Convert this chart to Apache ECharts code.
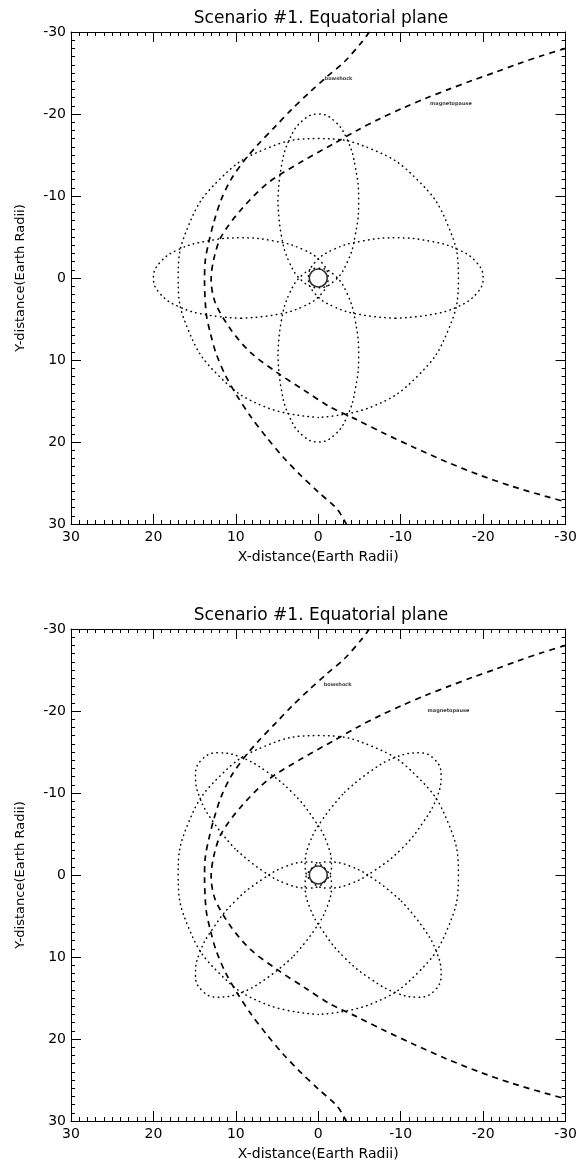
<!DOCTYPE html>
<html>
<head>
<meta charset="utf-8">
<script src="https://cdn.jsdelivr.net/npm/echarts/dist/echarts.min.js"></script>
<style>
  html, body { margin: 0; padding: 0; background: #fff; }
  #chart { width: 580px; height: 1163px; }
</style>
</head>
<body>
<div id="chart"></div>
<script>
// tick labels
const tickValues = [-30, -20, -10, 0, 10, 20, 30];
const tickLabels = ["-30", "-20", "-10", "0", "10", "20", "30"];

// dashed boundaries (X, Y in Earth radii)
const bowShock = [[-6.2, -30], [-5.3, -28.8], [-3.2, -26.4], [-1.0, -24.5], [1.1, -22.6], [3.2, -20.6], [5.2, -18.5],
  [7.2, -16.4], [9.0, -14.3], [10.6, -12.0], [11.8, -9.5], [12.7, -6.7], [13.3, -4.3], [13.7, -2.2], [13.8, 0.2],
  [13.6, 4.3], [13.1, 6.7], [12.4, 9.2], [11.3, 11.8], [9.9, 14.3], [8.2, 16.9], [6.3, 19.4], [4.3, 21.8],
  [2.2, 24.0], [0.0, 26.1], [-2.3, 28.2], [-3.4, 30]];
const magnetopause = [[-30, -28.0], [-27.1, -27.1], [-24.2, -26.1], [-21.5, -25.1], [-18.7, -24.1], [-15.8, -23.0],
  [-13.0, -21.9], [-10.2, -20.7], [-7.4, -19.4], [-4.7, -18.0], [-1.9, -16.4], [2.0, -14.2], [6.1, -11.6], [9.4, -8.3],
  [11.8, -5.0], [12.7, -2.2], [13.0, 0.2], [12.5, 3.0], [10.6, 6.3], [8.2, 9.1], [4.9, 11.6], [1.7, 13.7],
  [-1.4, 15.7], [-4.7, 17.3], [-7.9, 18.9], [-11.5, 20.6], [-15.5, 22.4], [-19.5, 24.0], [-23.5, 25.4],
  [-27.5, 26.6], [-30, 27.3]];

// circular orbit, both panels
const ringOrbit = [[0, 17], [6.5, 15.7], [12.0, 12.0], [15.7, 6.5], [17, 0], [15.7, -6.5], [12.0, -12.0], [6.5, -15.7],
  [0, -17], [-6.5, -15.7], [-12.0, -12.0], [-15.7, -6.5], [-17, 0], [-15.7, 6.5], [-12.0, 12.0], [-6.5, 15.7], [0, 17]];

// panel 1: orbits along the axes
const orbitPlusX = [[9.4, 4.9], [13.5, 4.5], [16.9, 3.5], [19.2, 1.9], [20, 0], [19.2, -1.9], [16.9, -3.5], [13.5, -4.5],
  [9.4, -4.9], [5.3, -4.5], [1.9, -3.5], [-0.4, -1.9], [-1.2, 0], [-0.4, 1.9], [1.9, 3.5], [5.3, 4.5], [9.4, 4.9]];
const orbitMinusX = [[-9.4, 4.9], [-13.5, 4.5], [-16.9, 3.5], [-19.2, 1.9], [-20, 0], [-19.2, -1.9], [-16.9, -3.5],
  [-13.5, -4.5], [-9.4, -4.9], [-5.3, -4.5], [-1.9, -3.5], [0.4, -1.9], [1.2, 0], [0.4, 1.9], [-1.9, 3.5], [-5.3, 4.5], [-9.4, 4.9]];
const orbitPlusY = [[4.9, 9.4], [4.5, 13.5], [3.5, 16.9], [1.9, 19.2], [0, 20], [-1.9, 19.2], [-3.5, 16.9], [-4.5, 13.5],
  [-4.9, 9.4], [-4.5, 5.3], [-3.5, 1.9], [-1.9, -0.4], [0, -1.2], [1.9, -0.4], [3.5, 1.9], [4.5, 5.3], [4.9, 9.4]];
const orbitMinusY = [[4.9, -9.4], [4.5, -13.5], [3.5, -16.9], [1.9, -19.2], [0, -20], [-1.9, -19.2], [-3.5, -16.9],
  [-4.5, -13.5], [-4.9, -9.4], [-4.5, -5.3], [-3.5, -1.9], [-1.9, 0.4], [0, 1.2], [1.9, 0.4], [3.5, -1.9], [4.5, -5.3], [4.9, -9.4]];

// panel 2: orbits along the diagonals
const orbitDiagA = [[3.2, 10.1], [6.4, 12.7], [9.5, 14.4], [12.2, 14.9], [14.1, 14.1], [14.9, 12.2], [14.4, 9.5], [12.7, 6.4],
  [10.1, 3.2], [6.9, 0.6], [3.8, -1.1], [1.1, -1.6], [-0.8, -0.8], [-1.6, 1.1], [-1.1, 3.8], [0.6, 6.9], [3.2, 10.1]];
const orbitDiagB = [[-10.1, 3.2], [-12.7, 6.4], [-14.4, 9.5], [-14.9, 12.2], [-14.1, 14.1], [-12.2, 14.9], [-9.5, 14.4],
  [-6.4, 12.7], [-3.2, 10.1], [-0.6, 6.9], [1.1, 3.8], [1.6, 1.1], [0.8, -0.8], [-1.1, -1.6], [-3.8, -1.1], [-6.9, 0.6], [-10.1, 3.2]];
const orbitDiagC = [[-3.2, -10.1], [-6.4, -12.7], [-9.5, -14.4], [-12.2, -14.9], [-14.1, -14.1], [-14.9, -12.2], [-14.4, -9.5],
  [-12.7, -6.4], [-10.1, -3.2], [-6.9, -0.6], [-3.8, 1.1], [-1.1, 1.6], [0.8, 0.8], [1.6, -1.1], [1.1, -3.8], [-0.6, -6.9], [-3.2, -10.1]];
const orbitDiagD = [[10.1, -3.2], [12.7, -6.4], [14.4, -9.5], [14.9, -12.2], [14.1, -14.1], [12.2, -14.9], [9.5, -14.4],
  [6.4, -12.7], [3.2, -10.1], [0.6, -6.9], [-1.1, -3.8], [-1.6, -1.1], [-0.8, 0.8], [1.1, 1.6], [3.8, 1.1], [6.9, -0.6], [10.1, -3.2]];

const earth = [[0, 0]];
const bowShockLabel = [[[-0.7, -24.3]], [[-0.6, -23.2]]];
const magnetopauseLabel = [[[-13.5, -21.3]], [[-13.2, -20.0]]];

const panelOrbits = [
  [orbitPlusX, orbitMinusX, orbitPlusY, orbitMinusY, ringOrbit],
  [orbitDiagA, orbitDiagB, orbitDiagC, orbitDiagD, ringOrbit]
];
const panelTitle = "Scenario #1. Equatorial plane";
const font = "DejaVu Sans";
const gridTops = [32, 629];

function fmt(v) {
  const i = tickValues.indexOf(v);
  return i < 0 ? "" : tickLabels[i];
}

function xAxisFor(g, bottom) {
  return {
    gridIndex: g, type: "value", min: -30, max: 30, interval: 10, inverse: true,
    position: bottom ? "bottom" : "top",
    name: bottom ? "X-distance(Earth Radii)" : "",
    nameLocation: "middle", nameGap: 26,
    nameTextStyle: { color: "#000", fontFamily: font, fontSize: 14 },
    axisLine: { onZero: false, lineStyle: { color: "#000", width: 1 } },
    axisTick: { inside: true, length: 10, lineStyle: { color: "#000" } },
    minorTick: { show: true, splitNumber: 10, length: 4, lineStyle: { color: "#000" } },
    axisLabel: { show: bottom, margin: 6, color: "#000", fontFamily: font, fontSize: 14, formatter: fmt },
    splitLine: { show: false }
  };
}

function yAxisFor(g, left) {
  return {
    gridIndex: g, type: "value", min: -30, max: 30, interval: 10, inverse: true,
    position: left ? "left" : "right",
    name: left ? "Y-distance(Earth Radii)" : "",
    nameLocation: "middle", nameGap: 44, nameRotate: 90,
    nameTextStyle: { color: "#000", fontFamily: font, fontSize: 13 },
    axisLine: { onZero: false, lineStyle: { color: "#000", width: 1 } },
    axisTick: { inside: true, length: 10, lineStyle: { color: "#000" } },
    minorTick: { show: true, splitNumber: 10, length: 4, lineStyle: { color: "#000" } },
    axisLabel: { show: left, margin: 5, color: "#000", fontFamily: font, fontSize: 14, formatter: fmt },
    splitLine: { show: false }
  };
}

const grids = [], xAxes = [], yAxes = [], series = [], graphics = [];
gridTops.forEach((top, g) => {
  grids.push({ left: 71, top: top, width: 500, height: 492 });
  xAxes.push(xAxisFor(g, true), xAxisFor(g, false));
  yAxes.push(yAxisFor(g, true), yAxisFor(g, false));
  graphics.push({
    type: "text", x: 321, y: top - 13,
    style: { text: panelTitle, textAlign: "center", textVerticalAlign: "middle", font: "17px " + font, fill: "#000" }
  });

  const axes = { xAxisIndex: g * 2, yAxisIndex: g * 2 };
  panelOrbits[g].forEach(o => {
    series.push({
      type: "line", ...axes, data: o, smooth: 0.45, symbol: "none", silent: true,
      lineStyle: { color: "#000", width: 1.5, type: [0.5, 4.5], cap: "round" }
    });
  });
  [bowShock, magnetopause].forEach(b => {
    series.push({
      type: "line", ...axes, data: b, smooth: 0.3, symbol: "none", silent: true,
      lineStyle: { color: "#000", width: 1.7, type: [6, 5] }
    });
  });
  series.push({
    type: "scatter", ...axes, data: earth, symbol: "circle", symbolSize: 18, silent: true,
    itemStyle: { color: "rgba(0,0,0,0)", borderColor: "#000", borderWidth: 1.6 }
  });
  [["bowshock", bowShockLabel[g]], ["magnetopause", magnetopauseLabel[g]]].forEach(([txt, pt]) => {
    series.push({
      type: "scatter", ...axes, data: pt, symbolSize: 1, silent: true,
      itemStyle: { color: "rgba(0,0,0,0)" },
      label: {
        show: true, position: "right", distance: 0, formatter: txt,
        color: "#000", fontFamily: font, fontSize: 5, fontWeight: "bold"
      }
    });
  });
});

const chart = echarts.init(document.getElementById("chart"));
chart.setOption({
  animation: false,
  backgroundColor: "#fff",
  grid: grids,
  xAxis: xAxes,
  yAxis: yAxes,
  graphic: graphics,
  series: series
});
</script>
</body>
</html>
